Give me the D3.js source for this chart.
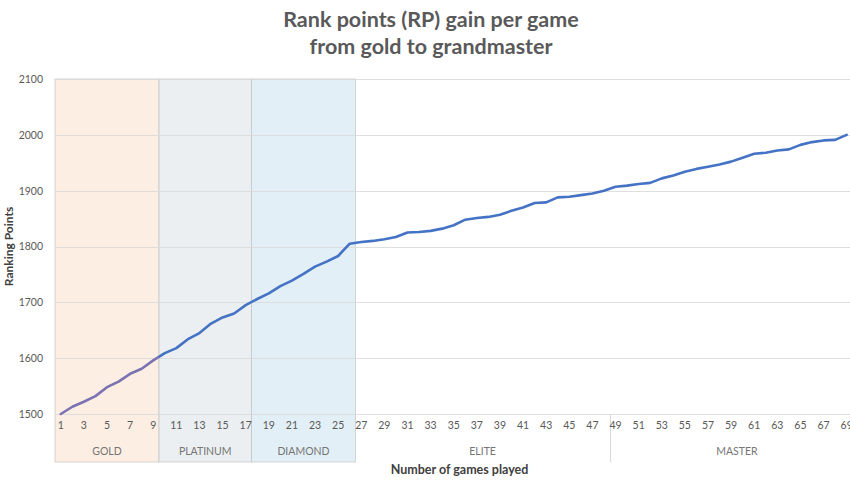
<!DOCTYPE html>
<html>
<head>
<meta charset="utf-8">
<script src="https://cdn.jsdelivr.net/npm/d3@7"></script>
<style>
  body { margin: 0; background: #fff; }
  svg { display: block; font-family: Lato, "Open Sans", sans-serif; }
</style>
</head>
<body>
<script>
// Games played (x categories) and ranking points after each game
let games = d3.range(1, 71); // category slots, last one falls just past the picture
let points = [
  1500, 1513, 1522, 1532, 1548, 1558, 1572, 1581, 1596, 1609,
  1618, 1634, 1645, 1662, 1673, 1680, 1695, 1706, 1716, 1729,
  1739, 1751, 1764, 1773, 1783, 1805, 1808, 1810, 1813, 1817,
  1825, 1826, 1828, 1832, 1838, 1848, 1851, 1853, 1857, 1864,
  1870, 1878, 1879, 1888, 1889, 1892, 1895, 1900, 1907, 1909,
  1912, 1914, 1922, 1927, 1934, 1939, 1943, 1947, 1952, 1959,
  1966, 1968, 1972, 1974, 1982, 1987, 1990, 1991, 2000
];
let yTicks = [1500, 1600, 1700, 1800, 1900, 2000, 2100];

// Rank tiers shown under the axis
let tierNames = ["GOLD", "PLATINUM", "DIAMOND", "ELITE", "MASTER"];
let tierStart = [1, 10, 18, 27, 49];
let tierEnd = [9, 17, 26, 48, 70];
let tierFill = ["#fdeee3", "#ebeff1", "#e3eff7", null, null];

let width = 850;
let height = 486;

let margins = { top: 79, left: 55, bottom: 72, plotRight: 864 };
let bandBottom = 462;

let svg = d3.select("body").append("svg")
  .attr("width", width)
  .attr("height", height);

let x = d3.scaleBand()
  .domain(games)
  .range([margins.left, margins.plotRight])
  .padding(0);

let y = d3.scaleLinear()
  .domain([1500, 2100])
  .range([414, margins.top]);

let cx = g => x(g) + x.bandwidth() / 2;

// shaded tier bands
let tiers = tierNames.map((n, i) => ({ name: n, start: tierStart[i], end: tierEnd[i], fill: tierFill[i] }));

svg.selectAll(".band")
  .data(tiers.filter(t => t.fill))
  .enter()
  .append("rect")
  .attr("x", t => x(t.start))
  .attr("y", margins.top)
  .attr("width", t => x(t.end) + x.bandwidth() - x(t.start))
  .attr("height", bandBottom - margins.top)
  .style("fill", t => t.fill)
  .style("stroke", "#b8b8b8")
  .style("stroke-opacity", 0.55);

// gridlines
svg.selectAll(".grid")
  .data(yTicks)
  .enter()
  .append("line")
  .attr("x1", margins.left)
  .attr("x2", margins.plotRight)
  .attr("y1", d => Math.round(y(d)) + 0.5)
  .attr("y2", d => Math.round(y(d)) + 0.5)
  .style("stroke", "#d9d9d9")
  .style("stroke-opacity", 0.85);

// divider between ELITE and MASTER in the axis area
svg.selectAll(".divider")
  .data(tiers.slice(4))
  .enter()
  .append("line")
  .attr("x1", t => Math.round(x(t.start)) + 0.5)
  .attr("x2", t => Math.round(x(t.start)) + 0.5)
  .attr("y1", y(1500))
  .attr("y2", bandBottom)
  .style("stroke", "#d9d9d9");

// y axis labels
let yAxis = d3.axisLeft(y).tickValues(yTicks).tickFormat(d3.format("d")).tickSize(0).tickPadding(0);
let yg = svg.append("g")
  .attr("transform", "translate(43,0)")
  .call(yAxis);
yg.select(".domain").remove();
yg.selectAll("text")
  .style("font-family", "Lato, sans-serif")
  .style("font-size", "10.5px")
  .style("fill", "#595959");

// x axis labels (odd games only)
let xAxis = d3.axisBottom(x).tickValues(games.filter(g => g % 2 === 1)).tickSize(0).tickPadding(0);
let xg = svg.append("g")
  .attr("transform", "translate(0,422)")
  .call(xAxis);
xg.select(".domain").remove();
xg.selectAll("text")
  .style("font-family", "Lato, sans-serif")
  .style("font-size", "10.5px")
  .style("fill", "#595959");

// tier labels
svg.selectAll(".tier-label")
  .data(tiers)
  .enter()
  .append("text")
  .attr("x", t => (x(t.start) + x(t.end) + x.bandwidth()) / 2)
  .attr("y", 455)
  .attr("text-anchor", "middle")
  .style("font-size", "10.5px")
  .style("fill", "#757575")
  .text(t => t.name);

// line, purple tinted inside the gold band
let grad = svg.append("defs").append("linearGradient")
  .attr("id", "lineGrad")
  .attr("gradientUnits", "userSpaceOnUse")
  .attr("x1", 0).attr("x2", width)
  .attr("y1", 0).attr("y2", 0);
let goldEdge = (x(tierEnd[0]) + x.bandwidth()) / width;
grad.append("stop").attr("offset", goldEdge).attr("stop-color", "#7a72b2");
grad.append("stop").attr("offset", goldEdge).attr("stop-color", "#4472c4");

let line = d3.line()
  .x((d, i) => cx(games[i]))
  .y(d => y(d));

svg.append("path")
  .datum(points)
  .attr("d", line)
  .style("fill", "none")
  .style("stroke", "url(#lineGrad)")
  .style("stroke-width", 2.6)
  .style("stroke-linejoin", "round")
  .style("stroke-linecap", "round");

// titles
let title = svg.append("text")
  .attr("text-anchor", "middle")
  .style("font-size", "21.5px")
  .style("font-weight", "bold")
  .style("fill", "#595959");
title.append("tspan").attr("x", 431).attr("y", 27).text("Rank points (RP) gain per game");
title.append("tspan").attr("x", 431).attr("y", 54).text("from gold to grandmaster");

svg.append("text")
  .attr("x", (margins.left + margins.plotRight) / 2)
  .attr("y", 474)
  .attr("text-anchor", "middle")
  .style("font-size", "12.5px")
  .style("font-weight", "bold")
  .style("fill", "#404040")
  .text("Number of games played");

svg.append("text")
  .attr("transform", `translate(13, ${(y(1500) + y(2100)) / 2}) rotate(-90)`)
  .attr("text-anchor", "middle")
  .style("font-size", "12px")
  .style("font-weight", "bold")
  .style("fill", "#404040")
  .text("Ranking Points");
</script>
</body>
</html>
